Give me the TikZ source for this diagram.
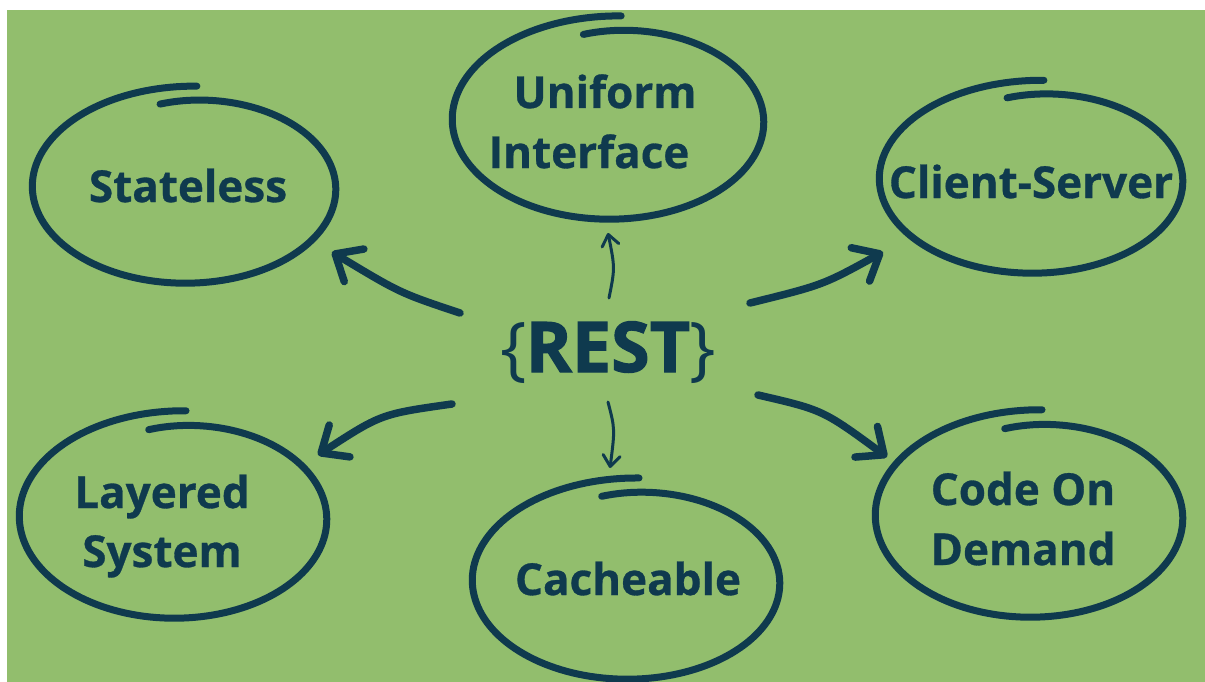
\documentclass[tikz,border=0pt]{standalone}
\usepackage{fontspec}
\setmainfont{Open Sans}[BoldFeatures={FakeBold=0.7}]
\newfontfamily\hubfont{Open Sans}[BoldFeatures={FakeBold=1.6}]
\usetikzlibrary{arrows.meta}

\definecolor{board}{HTML}{92BE6D}
\definecolor{ink}{HTML}{0F3A4E}

% Hand-drawn loop: an ellipse traced a little more than once round,
% starting just inside the top and finishing just outside it.
% #1 = centre x, #2 = centre y, #3 = x radius, #4 = y radius
\newcommand{\sketchring}[4]{%
  \draw[ring] plot[samples=160, domain=0:1, variable=\u]
    ({#1 + #3*(1 - 0.10*(1-\u)^8 + 0.075*\u^5)*cos(-101 + 375*\u)},
     {#2 + #4*(1 - 0.10*(1-\u)^8 + 0.075*\u^5)*sin(-101 + 375*\u)});
}

\tikzset{
  ring/.style={draw=ink, line width=7pt, line cap=round, line join=round},
  label/.style={text=ink, inner sep=0pt, anchor=base,
                font=\bfseries\fontsize{44}{52}\selectfont},
  hub/.style={text=ink, inner sep=0pt, anchor=base,
              font=\hubfont\fontsize{70}{80}\selectfont},
  flow/.style={draw=ink, line width=7.5pt, line cap=round,
               -{Straight Barb[length=22pt, width=38pt, round]}},
  thinflow/.style={draw=ink, line width=3pt, line cap=round,
                   -{Straight Barb[length=11pt, width=17pt, round]}},
}

\begin{document}
\begin{tikzpicture}[x=1pt, y={(0pt,-1pt)}]
  % page and board
  \useasboundingbox (0,0) rectangle (1205,682);
  \fill[white] (0,0) rectangle (1205,682);
  \fill[board] (7,10) rectangle (1205,682);

  % loops
  \sketchring{186}{188}{151}{95}
  \sketchring{610}{121}{155}{98}
  \sketchring{1033}{180}{151}{93}
  \sketchring{175}{518}{153}{100}
  \sketchring{628}{582}{153}{97}
  \sketchring{1031}{517}{153}{100}

  % labels
  \node[label] (stateless) at (188,202) {Stateless};
  \node[label] (uniform)   at (605,108) {Uniform};
  \node[label] (interface) at (589,168) {Interface};
  \node[label] (client)    at (1031,198) {Client-Server};
  \node[label] (layered)   at (162,508) {Layered};
  \node[label] (system)    at (162,567) {System};
  \node[label] (cacheable) at (628,595) {Cacheable};
  \node[label] (code)      at (1023,505) {Code On};
  \node[label] (demand)    at (1023,565) {Demand};

  % centre
  \node[hub] (rest) at (608,372) {\{\kern-1pt{\bfseries REST}\kern-1pt\}};

  % arrow ends
  \coordinate (aS) at (460,313); \coordinate (bS) at (332,252);
  \coordinate (aC) at (750,303); \coordinate (bC) at (883,252);
  \coordinate (aL) at (452,404); \coordinate (bL) at (318,455);
  \coordinate (aD) at (758,395); \coordinate (bD) at (887,457);
  \coordinate (aU) at (609,298); \coordinate (bU) at (608,233);
  \coordinate (aK) at (608,402); \coordinate (bK) at (610,468);

  % arrows
  \draw[flow] (aS) .. controls (400,293) .. (bS);
  \draw[flow] (aC) .. controls (823,285) .. (bC);
  \draw[flow] (aL) .. controls (381,414) .. (bL);
  \draw[flow] (aD) .. controls (823,410) .. (bD);
  \draw[thinflow] (aU) .. controls (615,268) .. (bU);
  \draw[thinflow] (aK) .. controls (615,429) .. (bK);
\end{tikzpicture}
\end{document}
